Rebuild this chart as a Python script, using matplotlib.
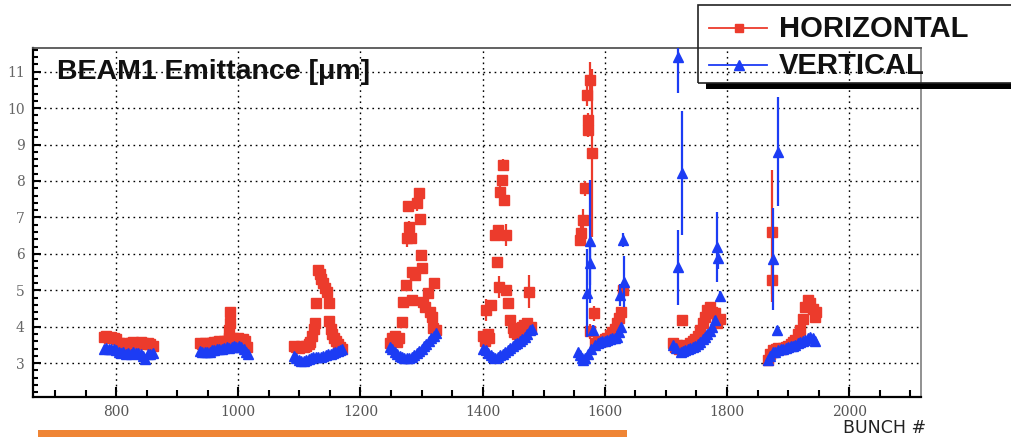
import matplotlib
matplotlib.use("Agg")
import matplotlib.pyplot as plt
from matplotlib.lines import Line2D
from matplotlib.patches import Rectangle
from matplotlib.ticker import MultipleLocator, FixedLocator

# ---------------- data ----------------
hor_bunch = [
    [780, 784, 788, 792, 796, 800, 804, 808, 812, 816, 820, 824, 828, 832, 836, 840, 844, 848, 852, 856, 860],
    [937, 941, 945, 949, 953, 957, 961, 965, 969, 973, 977, 981, 984, 985, 986, 987, 991, 995, 999, 1003, 1007, 1011, 1015],
    [1091, 1095, 1099, 1103, 1107, 1111, 1115, 1118, 1121, 1124, 1126, 1127, 1130, 1133, 1136, 1139, 1142, 1145, 1148, 1149, 1151, 1154, 1157, 1160, 1163, 1166, 1169],
    [1248, 1251, 1254, 1257, 1260, 1263, 1268, 1270, 1274, 1276, 1277, 1280, 1282, 1284, 1285, 1289, 1293, 1296, 1297, 1299, 1300, 1303, 1306, 1311, 1314, 1317, 1319, 1321, 1324],
    [1401, 1404, 1406, 1408, 1411, 1414, 1420, 1423, 1425, 1427, 1429, 1431, 1434, 1435, 1438, 1439, 1442, 1445, 1449, 1452, 1456, 1460, 1464, 1468, 1472, 1476, 1479],
    [1559, 1561, 1565, 1568, 1571, 1572, 1573, 1575, 1576, 1579, 1582, 1584, 1588, 1592, 1596, 1600, 1604, 1608, 1612, 1616, 1620, 1623, 1626, 1630],
    [1712, 1715, 1718, 1721, 1726, 1727, 1731, 1735, 1740, 1744, 1748, 1752, 1756, 1760, 1764, 1768, 1772, 1776, 1780, 1784, 1788],
    [1867, 1871, 1873, 1874, 1876, 1880, 1884, 1888, 1892, 1896, 1900, 1904, 1908, 1912, 1916, 1920, 1924, 1928, 1932, 1936, 1940, 1944, 1946],
]
hor_emit = [
    [3.72, 3.74, 3.70, 3.72, 3.70, 3.66, 3.55, 3.50, 3.52, 3.55, 3.50, 3.56, 3.58, 3.52, 3.55, 3.58, 3.56, 3.52, 3.55, 3.52, 3.48],
    [3.55, 3.52, 3.55, 3.53, 3.56, 3.55, 3.58, 3.57, 3.60, 3.58, 3.60, 3.62, 3.70, 3.91, 4.10, 4.41, 3.68, 3.65, 3.68, 3.62, 3.65, 3.60, 3.45],
    [3.48, 3.45, 3.42, 3.46, 3.44, 3.48, 3.52, 3.58, 3.75, 3.95, 4.10, 4.65, 5.56, 5.45, 5.32, 5.20, 5.05, 4.95, 4.66, 4.15, 3.95, 3.80, 3.70, 3.60, 3.52, 3.45, 3.40],
    [3.55, 3.70, 3.62, 3.75, 3.58, 3.68, 4.14, 4.69, 5.15, 6.43, 7.31, 6.75, 6.43, 5.51, 4.74, 5.42, 7.39, 7.68, 6.95, 5.97, 5.60, 4.69, 4.55, 4.92, 4.41, 4.28, 3.97, 5.19, 3.90],
    [3.75, 3.62, 4.46, 3.80, 3.70, 4.60, 6.52, 5.79, 6.65, 5.10, 7.70, 8.03, 8.44, 7.48, 6.52, 5.01, 4.65, 4.19, 3.96, 3.85, 3.80, 3.90, 4.00, 4.05, 4.10, 4.96, 4.00],
    [6.38, 6.57, 6.93, 7.80, 10.36, 9.67, 9.40, 10.77, 3.87, 8.76, 4.37, 3.55, 3.58, 3.60, 3.62, 3.65, 3.70, 3.78, 3.85, 3.95, 4.10, 4.25, 4.40, 5.01],
    [3.55, 3.45, 3.50, 3.40, 4.19, 3.45, 3.50, 3.48, 3.55, 3.60, 3.65, 3.75, 3.91, 4.10, 4.28, 4.45, 4.55, 4.40, 4.37, 4.10, 4.20],
    [3.09, 3.25, 5.28, 6.61, 3.36, 3.38, 3.42, 3.40, 3.42, 3.45, 3.48, 3.52, 3.58, 3.64, 3.80, 3.91, 4.20, 4.55, 4.73, 4.65, 4.50, 4.28, 4.40],
]
hor_err = [
    [0] * 21,
    [0, 0, 0, 0, 0, 0, 0, 0, 0, 0, 0, 0, 0, 0.08, 0.08, 0.1, 0, 0, 0, 0, 0, 0, 0],
    [0, 0, 0, 0, 0, 0, 0, 0, 0, 0.08, 0.1, 0.1, 0.1, 0.1, 0.1, 0.1, 0.1, 0.1, 0.1, 0, 0, 0, 0, 0, 0, 0, 0],
    [0, 0, 0, 0, 0, 0, 0.1, 0.1, 0.1, 0.25, 0.15, 0.15, 0.1, 0.1, 0.1, 0.1, 0.2, 0.12, 0.1, 0.1, 0.1, 0.1, 0.1, 0.1, 0.1, 0.1, 0, 0.1, 0],
    [0, 0, 0.3, 0, 0, 0.1, 0.15, 0.1, 0.15, 0.3, 0.15, 0.1, 0.15, 0.1, 0.3, 0.1, 0.1, 0.1, 0, 0, 0, 0, 0, 0, 0, 0.45, 0],
    [0, 0.2, 0.3, 0.2, 0.3, 0.2, 0.2, 0.5, 0.2, 2.3, 0.2, 0, 0, 0, 0, 0, 0, 0, 0, 0, 0, 0, 0, 0.1],
    [0] * 21,
    [0, 0, 0.6, 1.7, 0, 0, 0, 0, 0, 0, 0, 0, 0, 0, 0, 0, 0, 0, 0, 0, 0, 0, 0],
]

ver_bunch = [
    [780, 784, 788, 792, 796, 800, 804, 808, 812, 816, 820, 824, 828, 832, 836, 840, 844, 848, 852, 856, 860],
    [937, 941, 945, 949, 953, 957, 961, 965, 969, 973, 977, 981, 985, 989, 993, 997, 1001, 1005, 1009, 1013, 1016],
    [1091, 1095, 1099, 1103, 1107, 1111, 1115, 1119, 1123, 1127, 1131, 1135, 1139, 1143, 1147, 1151, 1155, 1159, 1163, 1167, 1170],
    [1248, 1252, 1256, 1260, 1264, 1268, 1272, 1276, 1280, 1284, 1288, 1292, 1296, 1300, 1304, 1308, 1312, 1316, 1320, 1324],
    [1401, 1405, 1409, 1413, 1417, 1421, 1425, 1429, 1433, 1437, 1441, 1445, 1449, 1453, 1457, 1461, 1465, 1469, 1473, 1477, 1480],
    [1556, 1559, 1562, 1565, 1568, 1571, 1572, 1575, 1576, 1578, 1581, 1584, 1588, 1592, 1596, 1600, 1604, 1608, 1612, 1616, 1620, 1623, 1625, 1626, 1630, 1632],
    [1712, 1716, 1719, 1720, 1724, 1726, 1728, 1732, 1736, 1740, 1744, 1748, 1752, 1756, 1760, 1764, 1768, 1772, 1776, 1780, 1784, 1786, 1789],
    [1867, 1871, 1875, 1876, 1879, 1882, 1883, 1884, 1888, 1892, 1896, 1900, 1904, 1908, 1912, 1916, 1920, 1924, 1928, 1932, 1936, 1940, 1944],
]
ver_emit = [
    [3.40, 3.42, 3.38, 3.40, 3.38, 3.36, 3.30, 3.28, 3.30, 3.26, 3.28, 3.25, 3.30, 3.27, 3.28, 3.25, 3.20, 3.12, 3.24, 3.26, 3.28],
    [3.33, 3.30, 3.32, 3.30, 3.32, 3.35, 3.36, 3.38, 3.40, 3.38, 3.42, 3.44, 3.42, 3.45, 3.47, 3.45, 3.48, 3.44, 3.40, 3.30, 3.25],
    [3.20, 3.15, 3.10, 3.06, 3.05, 3.08, 3.12, 3.15, 3.16, 3.18, 3.17, 3.18, 3.20, 3.22, 3.24, 3.25, 3.28, 3.30, 3.33, 3.36, 3.38],
    [3.45, 3.38, 3.30, 3.25, 3.20, 3.17, 3.15, 3.13, 3.15, 3.18, 3.22, 3.27, 3.33, 3.40, 3.46, 3.52, 3.60, 3.68, 3.75, 3.82],
    [3.40, 3.35, 3.28, 3.22, 3.17, 3.14, 3.18, 3.22, 3.26, 3.30, 3.36, 3.42, 3.48, 3.52, 3.56, 3.60, 3.66, 3.72, 3.80, 3.90, 3.95],
    [3.30, 3.22, 3.15, 3.09, 3.15, 4.92, 3.25, 5.74, 6.34, 3.40, 3.91, 3.50, 3.55, 3.58, 3.60, 3.62, 3.64, 3.66, 3.68, 3.70, 3.73, 3.85, 4.87, 4.00, 6.38, 5.24],
    [3.50, 3.42, 5.63, 11.41, 3.32, 8.23, 3.34, 3.36, 3.38, 3.41, 3.44, 3.48, 3.54, 3.59, 3.65, 3.72, 3.80, 3.87, 3.98, 4.19, 6.20, 5.88, 4.83],
    [3.09, 3.20, 5.85, 3.30, 3.32, 3.91, 8.80, 3.35, 3.38, 3.40, 3.42, 3.44, 3.46, 3.48, 3.50, 3.55, 3.58, 3.62, 3.64, 3.68, 3.73, 3.70, 3.60],
]
ver_err = [
    [0] * 21,
    [0] * 21,
    [0] * 21,
    [0] * 20,
    [0] * 21,
    [0, 0, 0, 0, 0, 1.2, 0, 0.6, 1.7, 0, 0.15, 0, 0, 0, 0, 0, 0, 0, 0, 0, 0, 0, 0.3, 0, 0.2, 0.7],
    [0, 0, 1.03, 1.0, 0, 1.7, 0, 0, 0, 0, 0, 0, 0, 0, 0, 0, 0, 0, 0, 0.1, 0.96, 0.3, 0.15],
    [0, 0, 1.4, 0, 0, 0.1, 1.5, 0, 0, 0, 0, 0, 0, 0, 0, 0, 0, 0, 0, 0, 0, 0, 0],
]

x_major = [800, 1000, 1200, 1400, 1600, 1800, 2000]
y_major = [3, 4, 5, 6, 7, 8, 9, 10, 11]

RED = "#EC3B2C"
BLUE = "#1C3CF4"
ORANGE = "#EF8535"

W, H = 1012, 437


def fx(px):
    return px / W


def fy(py):
    return 1 - py / H


fig = plt.figure(figsize=(W / 100, H / 100), dpi=100)
ax = fig.add_axes([fx(33), fy(396.7), (920.7 - 33) / W, (396.7 - 48) / H])
ax.set_xlim(664, 2117)
ax.set_ylim(2.08, 11.65)

# grid
for gx in x_major:
    ax.axvline(gx, color="black", lw=1.0, ls=(0, (1.2, 2.8)), zorder=1)
for gy in y_major:
    ax.axhline(gy, color="black", lw=1.0, ls=(0, (1.2, 2.8)), zorder=1)

# horizontal (red)
for bx, by, be in zip(hor_bunch, hor_emit, hor_err):
    ax.errorbar(bx, by, yerr=be, fmt="s", color=RED, ms=7, mec=RED, elinewidth=1.6,
                capsize=0, zorder=3, clip_on=True)
# vertical (blue)
for bx, by, be in zip(ver_bunch, ver_emit, ver_err):
    ax.errorbar(bx, by, yerr=be, fmt="^", color=BLUE, ms=7.5, mec=BLUE, elinewidth=1.6,
                capsize=0, zorder=4, clip_on=True)

# ticks
ax.xaxis.set_major_locator(FixedLocator(x_major))
ax.xaxis.set_minor_locator(MultipleLocator(50))
ax.yaxis.set_major_locator(FixedLocator(y_major))
ax.yaxis.set_minor_locator(MultipleLocator(0.2))
ax.tick_params(axis="x", which="major", direction="in", length=7.5, width=1.5,
               labelsize=10, labelcolor="#555555", pad=6, top=False)
ax.tick_params(axis="x", which="minor", direction="in", length=4.8, width=1.5, top=False)
ax.tick_params(axis="y", which="major", direction="in", length=6, width=1.5,
               labelsize=10, labelcolor="#666666", pad=6, right=False)
ax.tick_params(axis="y", which="minor", direction="in", length=3.6, width=1.5, right=False)
ax.set_xticklabels([str(v) for v in x_major])
ax.set_yticklabels([str(v) for v in y_major])
for lab in ax.get_yticklabels() + ax.get_xticklabels():
    lab.set_family("DejaVu Serif")

ax.spines["left"].set_linewidth(1.6)
ax.spines["bottom"].set_linewidth(1.6)
ax.spines["top"].set_linewidth(1.3)
ax.spines["top"].set_color("#555555")
ax.spines["right"].set_linewidth(1.3)
ax.spines["right"].set_color("#888888")

# title inside
fig.text(fx(57), fy(72), "BEAM1 Emittance [μm]", family="Liberation Sans",
         weight="bold", fontsize=20.5, ha="left", va="center", color="#111111")

# legend box (drawn on figure)
fig.add_artist(Rectangle((fx(706), fy(88.5)), fx(1040) - fx(706), fy(83) - fy(88.5),
                         transform=fig.transFigure, facecolor="black", edgecolor="none", zorder=5))
fig.add_artist(Rectangle((fx(698), fy(83)), fx(1040) - fx(698), fy(5) - fy(83),
                         transform=fig.transFigure, facecolor="none", edgecolor="#222222",
                         lw=1.2, zorder=6))
fig.add_artist(Line2D([fx(709), fx(767)], [fy(28), fy(28)], color=RED, lw=1.3,
                      marker=None, transform=fig.transFigure, zorder=6))
fig.add_artist(Line2D([fx(739)], [fy(28)], color=RED, marker="s", ms=6, ls="none",
                      transform=fig.transFigure, zorder=6))
fig.add_artist(Line2D([fx(709), fx(767)], [fy(65), fy(65)], color=BLUE, lw=1.3,
                      transform=fig.transFigure, zorder=6))
fig.add_artist(Line2D([fx(739)], [fy(65)], color=BLUE, marker="^", ms=6.5, ls="none",
                      transform=fig.transFigure, zorder=6))
fig.text(fx(779), fy(29), "HORIZONTAL", family="Liberation Sans", weight="bold",
         fontsize=21, ha="left", va="center", color="#111111", zorder=7)
fig.text(fx(779), fy(66), "VERTICAL", family="Liberation Sans", weight="bold",
         fontsize=21, ha="left", va="center", color="#111111", zorder=7)

# x axis title
fig.text(fx(843), fy(428), "BUNCH #", family="DejaVu Sans", fontsize=12.5,
         ha="left", va="center", color="#222222")

# orange bar
fig.add_artist(Rectangle((fx(38), fy(440)), fx(627) - fx(38), fy(430) - fy(440),
                         transform=fig.transFigure, facecolor=ORANGE, edgecolor="none"))

fig.savefig("out.png", dpi=100)
